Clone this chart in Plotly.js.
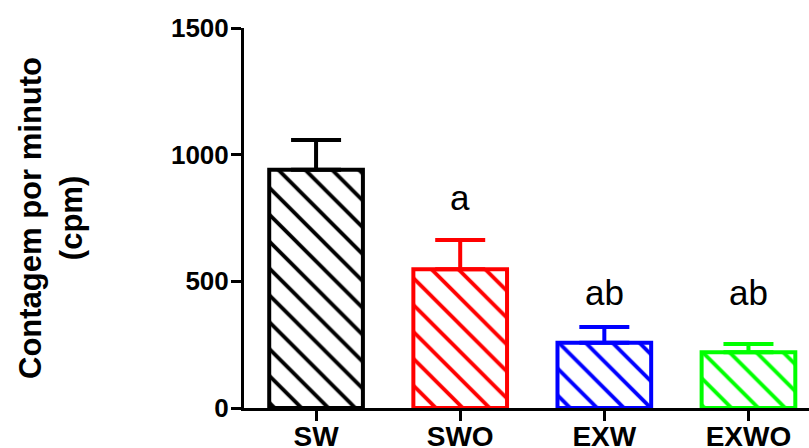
<!DOCTYPE html>
<html>
<head>
<meta charset="utf-8">
<script src="https://cdn.plot.ly/plotly-3.0.1.min.js"></script>
<style>html,body{margin:0;padding:0;background:#fff;}#chart{width:809px;height:448px;}</style>
</head>
<body>
<div id="chart"></div>
<script>
const categories = ["SW", "SWO", "EXW", "EXWO"];
const means = [940, 548, 258, 220];
const errors = [118, 115, 62, 33];
const colors = ["#000000", "#ff0000", "#0000ff", "#00ff00"];
const letters = ["", "a", "ab", "ab"];
const letterY = [0, 830, 455, 455];
const yTicks = [0, 500, 1000, 1500];

const FONT = "Liberation Sans, Arial, Helvetica, sans-serif";

const traces = categories.map((c, i) => ({
  type: "bar",
  x: [c],
  y: [means[i]],
  width: 0.65,
  marker: {
    color: "#ffffff",
    line: {color: colors[i], width: 4},
    pattern: {shape: "\\", fgcolor: colors[i], bgcolor: "#ffffff", size: 19, solidity: 0.2, fillmode: "replace"}
  },
  error_y: {type: "data", symmetric: false, array: [errors[i]], arrayminus: [0], color: colors[i], thickness: 4, width: 25},
  showlegend: false,
  hoverinfo: "skip"
}));

const annotations = categories.map((c, i) => ({
  x: c, y: letterY[i], xref: "x", yref: "y",
  text: letters[i], showarrow: false, yanchor: "middle",
  font: {family: FONT, size: 35, color: "#000"}
})).filter(a => a.text !== "");

const layout = {
  width: 809, height: 448,
  margin: {l: 244, r: 0, t: 28, b: 40},
  paper_bgcolor: "#fff", plot_bgcolor: "#fff",
  barmode: "overlay",
  font: {family: FONT, color: "#000"},
  xaxis: {
    type: "category", categoryorder: "array", categoryarray: categories,
    range: [-0.5, 3.42],
    showline: true, linecolor: "#000", linewidth: 3,
    ticks: "outside", ticklen: 10, tickwidth: 3, tickcolor: "#000",
    ticklabelstandoff: -9,
    tickfont: {family: FONT, size: 28, color: "#000", weight: "bold"},
    showgrid: false, zeroline: false, fixedrange: true
  },
  yaxis: {
    range: [0, 1500], tickvals: yTicks, ticktext: yTicks.map(String),
    showline: true, linecolor: "#000", linewidth: 3,
    ticks: "outside", ticklen: 10, tickwidth: 3, tickcolor: "#000",
    ticklabelstandoff: -3,
    tickfont: {family: FONT, size: 26, color: "#000", weight: "bold"},
    showgrid: false, zeroline: false, fixedrange: true,
    title: {text: "Contagem por minuto<br>(cpm)", font: {family: FONT, size: 31, color: "#000", weight: "bold"}, standoff: 80}
  },
  annotations: annotations
};

Plotly.newPlot("chart", traces, layout, {displayModeBar: false, staticPlot: true});
</script>
</body>
</html>
